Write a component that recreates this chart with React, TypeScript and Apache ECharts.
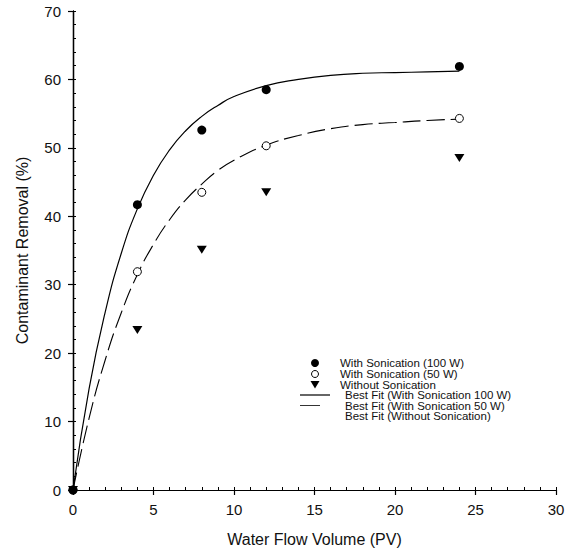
import React, { useEffect, useRef } from "react";
import * as echarts from "echarts";

// Measured points (Water Flow Volume PV vs Contaminant Removal %)
const pvPoints = [0, 4, 8, 12, 24];
const with100W = [0, 41.7, 52.6, 58.5, 61.9];
const with50W = [0, 31.9, 43.5, 50.3, 54.3];
const withoutSon = [0, 23.4, 35.1, 43.5, 48.5];

// Best-fit curves
const fitPV = [0, 1, 2, 3, 4, 5, 6, 7, 8, 9, 10, 12, 14, 16, 18, 20, 22, 24];
const fit100W = [0, 14.8, 26.0, 34.6, 41.1, 46.0, 49.7, 52.5, 54.6, 56.2, 57.5, 59.1, 60.0, 60.6, 60.9, 61.0, 61.1, 61.2];
const fit50W = [0, 10.5, 19.0, 25.9, 31.5, 35.9, 39.5, 42.4, 44.7, 46.7, 48.2, 50.4, 51.8, 52.8, 53.4, 53.7, 54.0, 54.2];
// Third best fit is not visible in the picture; only its origin
const fitWithout = [[0, 0]];

const seriesNames = [
  "With Sonication (100 W)",
  "With Sonication (50 W)",
  "Without Sonication",
  "Best Fit (With Sonication 100 W)",
  "Best Fit (With Sonication 50 W)",
  "Best Fit (Without Sonication)",
];

const FONT = "'Liberation Sans', Arial, sans-serif";

export default function App() {
  const ref = useRef<HTMLDivElement>(null);
  useEffect(() => {
    if (!ref.current) return;
    const chart = echarts.init(ref.current, undefined, { renderer: "svg" });
    const pair = (xs: number[], ys: number[]) => xs.map((x, i) => [x, ys[i]]);

    // Legend drawn as graphic elements (icons + text)
    const rowY = [363, 374, 384.5, 395, 405.5, 416];
    const textX = [340, 340, 340, 345, 345, 345];
    const legend: any[] = [
      { type: "circle", shape: { cx: 315, cy: rowY[0], r: 4 }, style: { fill: "#000" } },
      { type: "circle", shape: { cx: 315, cy: rowY[1], r: 3.5 }, style: { fill: "#fff", stroke: "#000", lineWidth: 1 } },
      { type: "polygon", shape: { points: [[310.5, rowY[2] - 3.5], [319.5, rowY[2] - 3.5], [315, rowY[2] + 4]] }, style: { fill: "#000" } },
      { type: "line", shape: { x1: 300, y1: rowY[3], x2: 330, y2: rowY[3] }, style: { stroke: "#000", lineWidth: 1.2 } },
      { type: "line", shape: { x1: 300, y1: rowY[4], x2: 320, y2: rowY[4] }, style: { stroke: "#000", lineWidth: 0.8 } },
    ];
    seriesNames.forEach((n, i) => {
      legend.push({
        type: "text",
        x: textX[i],
        y: rowY[i],
        style: { text: n, fontSize: 11.5, fontFamily: FONT, fill: "#111", verticalAlign: "middle", align: "left" },
      });
    });

    const C = "#000";
    const noSplit = { show: true, lineStyle: { color: "rgba(0,0,0,0)" } };
    const minorAxis = (max: number, interval: number, position: string) => ({
      type: "value",
      min: 0,
      max,
      interval,
      position,
      axisLine: { show: true, lineStyle: { color: C, width: 1.2 } },
      axisTick: { show: true, inside: true, length: 3, lineStyle: { color: C, width: 1 } },
      axisLabel: { show: false },
      splitLine: noSplit,
    });
    const frameAxis = (max: number, interval: number, position: string) => ({
      type: "value",
      min: 0,
      max,
      interval,
      position,
      axisLine: { show: true, lineStyle: { color: C, width: 1.2 } },
      axisTick: { show: false },
      axisLabel: { show: false },
      splitLine: noSplit,
    });

    chart.setOption({
      animation: false,
      backgroundColor: "#fff",
      grid: { left: 73, right: 16, top: 11, bottom: 61 },
      graphic: legend,
      xAxis: [
        {
          type: "value",
          min: 0,
          max: 30,
          interval: 5,
          name: "Water Flow Volume (PV)",
          nameLocation: "middle",
          nameGap: 41,
          nameTextStyle: { fontSize: 16, color: "#111", fontFamily: FONT },
          axisLine: { show: true, lineStyle: { color: C, width: 1.2 } },
          axisTick: { show: true, length: 5, lineStyle: { color: C, width: 1.2 } },
          axisLabel: { fontSize: 15, color: "#111", margin: 12, fontFamily: FONT },
          splitLine: noSplit,
        },
        minorAxis(30, 1, "bottom"),
        frameAxis(30, 5, "top"),
      ],
      yAxis: [
        {
          type: "value",
          min: 0,
          max: 70,
          interval: 10,
          name: "Contaminant Removal (%)",
          nameLocation: "middle",
          nameGap: 43,
          nameTextStyle: { fontSize: 16, color: "#111", fontFamily: FONT },
          axisLine: { show: true, lineStyle: { color: C, width: 1.2 } },
          axisTick: { show: true, length: 5, lineStyle: { color: C, width: 1.2 } },
          axisLabel: { fontSize: 15, color: "#111", margin: 12, fontFamily: FONT },
          splitLine: noSplit,
        },
        minorAxis(70, 2, "left"),
        frameAxis(70, 10, "right"),
      ],
      series: [
        {
          name: seriesNames[0],
          type: "scatter",
          symbol: "circle",
          symbolSize: 9,
          itemStyle: { color: "#000", opacity: 1 },
          data: pair(pvPoints, with100W),
          z: 5,
        },
        {
          name: seriesNames[1],
          type: "scatter",
          symbol: "circle",
          symbolSize: 8,
          itemStyle: { color: "#fff", borderColor: "#000", borderWidth: 1, opacity: 1 },
          data: pair(pvPoints, with50W),
          z: 4,
        },
        {
          name: seriesNames[2],
          type: "scatter",
          symbol: "triangle",
          symbolRotate: 180,
          symbolSize: [10, 8],
          itemStyle: { color: "#000", opacity: 1 },
          data: pair(pvPoints, withoutSon),
          z: 3,
        },
        {
          name: seriesNames[3],
          type: "line",
          symbol: "none",
          smooth: true,
          xAxisIndex: 1,
          yAxisIndex: 1,
          lineStyle: { color: "#000", width: 1.2 },
          data: pair(fitPV, fit100W),
          z: 2,
        },
        {
          name: seriesNames[4],
          type: "line",
          symbol: "none",
          smooth: true,
          xAxisIndex: 2,
          yAxisIndex: 2,
          lineStyle: { color: "#000", width: 1.1, type: [18, 6] },
          data: pair(fitPV, fit50W),
          z: 2,
        },
        {
          name: seriesNames[5],
          type: "line",
          symbol: "none",
          lineStyle: { color: "rgba(0,0,0,0)", width: 0 },
          data: fitWithout,
        },
      ],
    });
    return () => chart.dispose();
  }, []);
  return <div ref={ref} style={{ position: "fixed", left: 0, top: 0, width: 572, height: 552 }} />;
}
